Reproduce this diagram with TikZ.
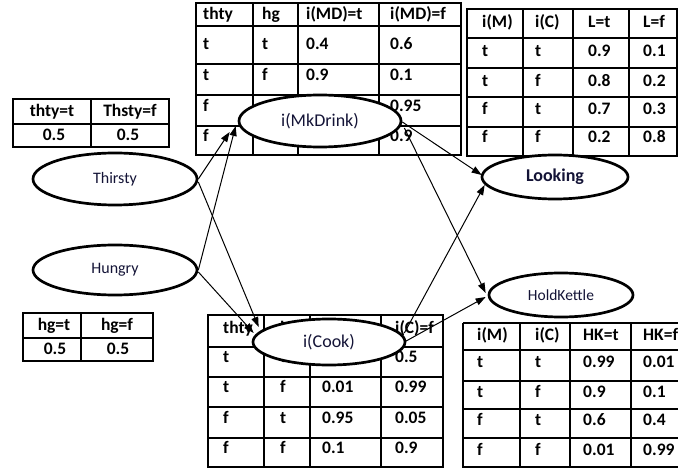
\documentclass[tikz,border=0pt]{standalone}
\usepackage{fontspec}
\setmainfont{Carlito}
\usetikzlibrary{arrows.meta,shapes.geometric,calc}
\definecolor{lbl}{RGB}{20,20,55}
\begin{document}
\begin{tikzpicture}[x=1pt,y=-1pt,
  grid/.style={line width=1.4pt},
  cell/.style={anchor=west,inner sep=0pt,text height=12pt,text depth=3pt,font=\fontsize{17.5}{20}\selectfont\bfseries},
  ccell/.style={cell,anchor=center},
  var/.style={ellipse,draw,line width=2.7pt,fill=white,inner sep=0pt,text=lbl,font=\fontsize{17}{20}\selectfont},
  arr/.style={line width=1pt,-{Triangle[length=10pt,width=7pt]}}]
\useasboundingbox (0,0) rectangle (678,468);
\clip (0,0) rectangle (678,468);

% ---- prior table for Thirsty
\draw[grid] (13,99) rectangle (169,147);
\draw[grid] (13,124) -- (169,124);
\draw[grid] (91,99) -- (91,147);
\node[ccell] (pt1) at (52,112) {thty=t};
\node[ccell] (pt2) at (130,112) {Thsty=f};
\node[ccell] (pt3) at (54,136) {0.5};
\node[ccell] (pt4) at (128,136) {0.5};

% ---- prior table for Hungry
\draw[grid] (23,313) rectangle (153,361);
\draw[grid] (23,338) -- (153,338);
\draw[grid] (81,313) -- (81,361);
\node[ccell] (ph1) at (54,326) {hg=t};
\node[ccell] (ph2) at (117,326) {hg=f};
\node[ccell] (ph3) at (55,350) {0.5};
\node[ccell] (ph4) at (118,350) {0.5};

% ---- MkDrink table
\draw[grid] (196,3) rectangle (461,155);
\foreach \yy in {26,64,95,126} \draw[grid] (196,\yy) -- (461,\yy);
\foreach \xx in {253,298,379} \draw[grid] (\xx,3) -- (\xx,155);
\foreach \yy/\a/\b/\c/\d [count=\r] in {15/thty/hg/i(MD)=t/i(MD)=f,45/t/t/0.4/0.6,76/t/f/0.9/0.1}{
  \node[cell] (md\r a) at (203,\yy) {\a};
  \node[cell] (md\r b) at (262,\yy) {\b};
  \node[cell] (md\r c) at (306,\yy) {\c};
  \node[cell] (md\r d) at (390,\yy) {\d};
}
\node[cell] (md4a) at (203,107) {f};
\node[cell] (md4d) at (390,107) {0.95};
\node[cell] (md5a) at (203,137) {f};
\node[cell] (md5b) at (262,137) {t};
\node[cell] (md5d) at (390,137) {0.9};

% ---- Looking table
\draw[grid] (467,9) rectangle (677,156);
\foreach \yy in {38,68,97,127} \draw[grid] (467,\yy) -- (677,\yy);
\foreach \xx in {523,573,629} \draw[grid] (\xx,9) -- (\xx,156);
\foreach \yy/\a/\b/\c/\d [count=\r] in {23/i(M)/i(C)/L=t/L=f,52/t/t/0.9/0.1,82/t/f/0.8/0.2,110/f/t/0.7/0.3,138/f/f/0.2/0.8}{
  \node[cell] (lk\r a) at (482,\yy) {\a};
  \node[cell] (lk\r b) at (535,\yy) {\b};
  \node[cell] (lk\r c) at (588,\yy) {\c};
  \node[cell] (lk\r d) at (643,\yy) {\d};
}

% ---- Cook table
\draw[grid] (208,315) rectangle (443,467);
\foreach \yy in {347,377,407,438} \draw[grid] (208,\yy) -- (443,\yy);
\foreach \xx in {264,310,381} \draw[grid] (\xx,315) -- (\xx,467);
\node[cell] (ck1a) at (223,329) {thty};
\node[cell] (ck1b) at (280,329) {hg};
\node[cell] (ck1d) at (395,329) {i(C)=f};
\node[cell] (ck2a) at (223,358) {t};
\node[cell] (ck2b) at (280,358) {t};
\node[cell] (ck2d) at (395,358) {0.5};
\foreach \yy/\a/\b/\c/\d [count=\r from 3] in {388/t/f/0.01/0.99,419/f/t/0.95/0.05,449/f/f/0.1/0.9}{
  \node[cell] (ck\r a) at (223,\yy) {\a};
  \node[cell] (ck\r b) at (280,\yy) {\b};
  \node[cell] (ck\r c) at (322,\yy) {\c};
  \node[cell] (ck\r d) at (395,\yy) {\d};
}

% ---- HoldKettle table
\draw[grid] (463,323) -- (678,323);
\draw[grid] (463,323) -- (463,467) -- (678,467);
\foreach \yy in {350,381,409,438} \draw[grid] (463,\yy) -- (678,\yy);
\foreach \xx in {520,570,631} \draw[grid] (\xx,323) -- (\xx,467);
\foreach \yy/\a/\b/\c/\d [count=\r] in {336/i(M)/i(C)/HK=t/HK=f,363/t/t/0.99/0.01,393/t/f/0.9/0.1,421/f/t/0.6/0.4,451/f/f/0.01/0.99}{
  \node[cell] (hk\r a) at (477,\yy) {\a};
  \node[cell] (hk\r b) at (535,\yy) {\b};
  \node[cell] (hk\r c) at (583,\yy) {\c};
  \node[cell] (hk\r d) at (643,\yy) {\d};
}

% ---- variables
\node[var,minimum width=164pt,minimum height=52pt,font=\fontsize{16}{19}\selectfont] (thirsty) at (115,179) {Thirsty};
\node[var,minimum width=164pt,minimum height=50pt,font=\fontsize{16}{19}\selectfont] (hungry) at (115,270) {Hungry};
\node[var,minimum width=162pt,minimum height=52pt,font=\fontsize{18}{21}\selectfont] (mk) at (320,121) {i(MkDrink)};
\node[var,minimum width=152pt,minimum height=46pt,font=\fontsize{18}{21}\selectfont] (cook) at (329,342) {i(Cook)};
\node[var,minimum width=146pt,minimum height=44pt,font=\fontsize{18}{21}\selectfont\bfseries] (look) at (555,177) {Looking};
\node[var,minimum width=144pt,minimum height=44pt,font=\fontsize{15.5}{19}\selectfont] (hk) at (561,295) {HoldKettle};

% ---- arrows
\draw[arr] (thirsty.east) -- ($(mk.west)+(-8,11)$);
\draw[arr] (hungry.east) -- ($(mk.west)+(-2,5)$);
\draw[arr] ($(thirsty.east)+(0,3)$) -- ($(cook.west)+(7,-15)$);
\draw[arr] ($(hungry.east)+(0,2)$) -- ($(cook.west)+(2,-9)$);
\draw[arr] ($(mk.east)+(0,1)$) -- ($(look.west)+(1,-2)$);
\draw[arr] ($(mk.east)+(2,7)$) -- ($(hk.west)+(-2,-2)$);
\draw[arr] ($(cook.east)+(-2,-9)$) -- ($(look.west)+(4,8)$);
\draw[arr] ($(cook.east)+(-2,0)$) -- ($(hk.west)+(-2,2)$);
\end{tikzpicture}
\end{document}
